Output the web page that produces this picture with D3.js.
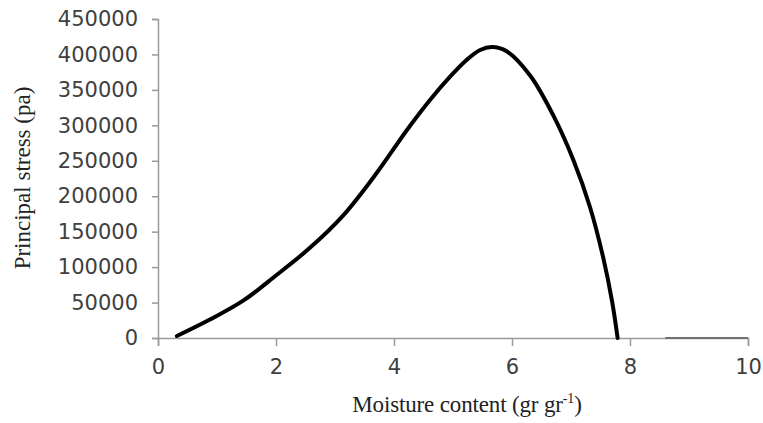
<!DOCTYPE html>
<html>
  <head>
    <meta charset="utf-8">
    <title>Principal stress vs moisture content</title>
    <script src="https://d3js.org/d3.v7.min.js"></script>
    <style>
      body { margin: 0; background: #fff; }
      .tick text { font-family: "DejaVu Sans", sans-serif; font-size: 21px; fill: #404040; }
      .axis path, .axis line { stroke: #9a9a9a; stroke-width: 1.5; }
      .title { font-family: "Liberation Serif", "Times New Roman", serif; font-size: 23px; fill: #222; }
    </style>
  </head>
  <body>
    <div id="vis"></div>
    <script>
      const width = 763;
      const height = 423;

      // values
      const moisture = [0.32, 0.88, 1.45, 2.01, 2.58, 3.14, 3.70, 4.22, 4.61, 4.95, 5.23, 5.46, 5.66, 5.91, 6.31, 6.70, 7.04, 7.32, 7.55, 7.70, 7.79];
      const stress = [2800, 26000, 53000, 88900, 127500, 173000, 232000, 293400, 335700, 368600, 392200, 406300, 410500, 404500, 370000, 314000, 251100, 185200, 112000, 50000, 0];
      // the darker flat piece lying on the x axis at the right end
      const tailMoisture = [8.6, 10];
      const tailStress = [0, 0];

      const xTicks = [0, 2, 4, 6, 8, 10];
      const yTicks = d3.range(0, 450001, 50000);

      const margin = {top: 19, right: 15, bottom: 85, left: 158};

      const svg = d3.select('#vis')
                    .append('svg')
                    .attr('width', width)
                    .attr('height', height);

      const x = d3.scaleLinear().domain([0, 10]).range([margin.left, width - margin.right]);
      const y = d3.scaleLinear().domain([0, 450000]).range([height - margin.bottom, margin.top]);

      // x axis
      svg.append('g')
         .attr('class', 'axis')
         .attr('transform', `translate(0,${y(0)})`)
         .call(d3.axisBottom(x).tickValues(xTicks).tickSize(8).tickSizeOuter(8).tickPadding(19))
         .call(g => g.selectAll('.tick text').attr('dy', '0.45em'));

      // y axis
      svg.append('g')
         .attr('class', 'axis')
         .attr('transform', `translate(${x(0)},0)`)
         .call(d3.axisLeft(y).tickValues(yTicks).tickFormat(d3.format('d')).tickSize(6).tickSizeOuter(6).tickPadding(14));

      // main curve
      const line = d3.line()
                     .x(d => x(d[0]))
                     .y(d => y(d[1]))
                     .curve(d3.curveCatmullRom.alpha(0.5));

      svg.append('path')
         .datum(d3.zip(moisture, stress))
         .attr('fill', 'none')
         .attr('stroke', '#000')
         .attr('stroke-width', 4)
         .attr('stroke-linecap', 'round')
         .attr('d', line);

      svg.append('path')
         .datum(d3.zip(tailMoisture, tailStress))
         .attr('fill', 'none')
         .attr('stroke', '#707070')
         .attr('stroke-width', 2)
         .attr('d', d3.line().x(d => x(d[0])).y(d => y(d[1])));

      // axis titles
      const xTitle = svg.append('text')
         .attr('class', 'title')
         .attr('x', 467)
         .attr('y', 412)
         .attr('text-anchor', 'middle')
         .attr('letter-spacing', '-0.15px');
      xTitle.append('tspan').text('Moisture content (gr gr');
      xTitle.append('tspan').attr('font-size', '14px').attr('dy', '-9').text('-1');
      xTitle.append('tspan').attr('dy', '9').text(')');

      svg.append('text')
         .attr('class', 'title')
         .attr('font-size', '24px')
         .attr('transform', `translate(30,178) rotate(-90)`)
         .attr('text-anchor', 'middle')
         .text('Principal stress (pa)');
    </script>
  </body>
</html>
